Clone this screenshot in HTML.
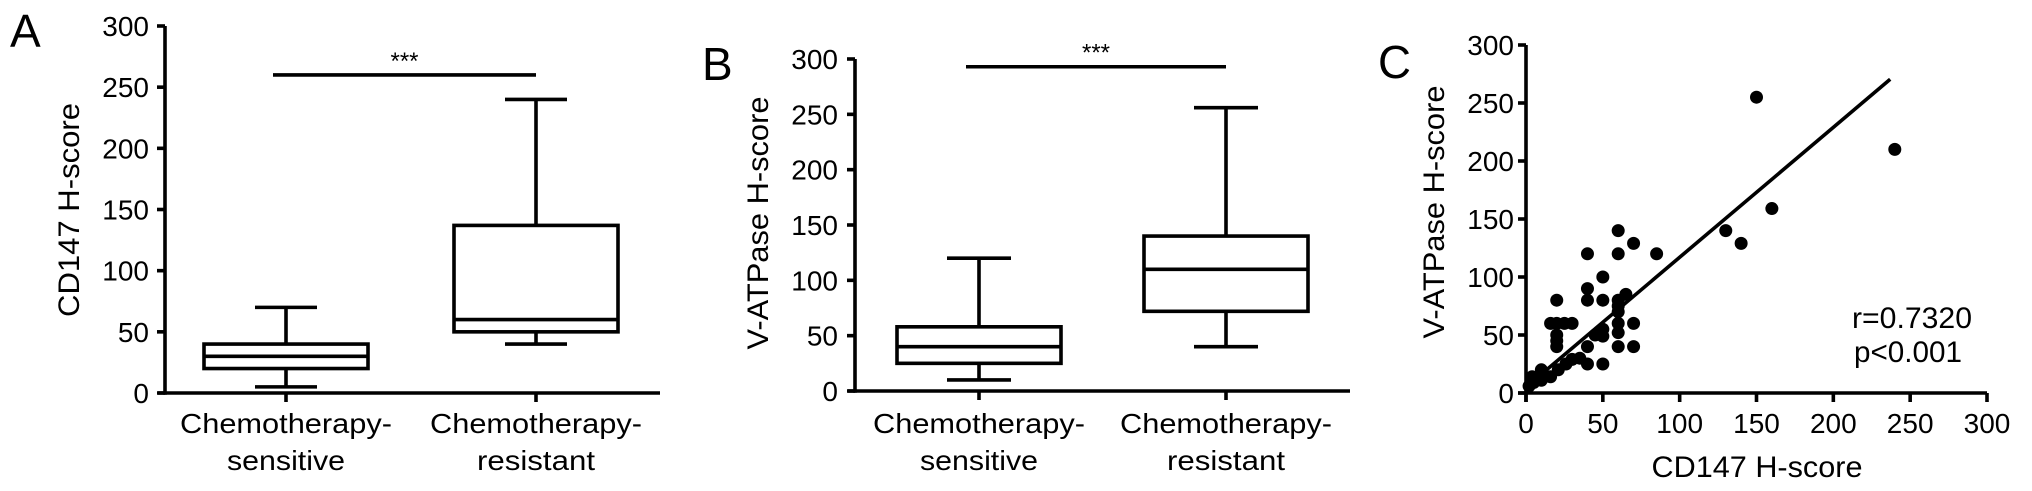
<!DOCTYPE html>
<html><head><meta charset="utf-8"><style>
html,body{margin:0;padding:0;background:#fff;}
svg{display:block;font-family:"Liberation Sans",Arial,sans-serif;}
</style></head><body>
<svg id="fig" width="2032" height="491" viewBox="0 0 2032 491" xmlns="http://www.w3.org/2000/svg"></svg>
<script>
// Panel A data
const aCategories = ["Chemotherapy-|sensitive", "Chemotherapy-|resistant"];
const aMin = [5, 40], aQ1 = [20, 50], aMed = [30, 60], aQ3 = [40, 137], aMax = [70, 240];
const aSig = [260];
// Panel B data
const bCategories = ["Chemotherapy-|sensitive", "Chemotherapy-|resistant"];
const bMin = [10, 40], bQ1 = [25, 72], bMed = [40, 110], bQ3 = [58, 140], bMax = [120, 256];
const bSig = [293];
// shared ticks
const yTicks = [0, 50, 100, 150, 200, 250, 300];
const cXTicks = [0, 50, 100, 150, 200, 250, 300];
// Panel C data
const cX = [150,240,160,130,140,60,70,40,60,85,50,40,40,50,20,60,65,60,70,60,60,60,70,50,50,40,40,50,16,20,25,30,20,20,20,30,26,10,4,10,5,16,21,2,60,45,35,12,8];
const cY = [255,210,159,140,129,140,129,120,120,120,100,90,80,80,80,80,85,70,60,60,52,40,40,55,49,40,25,25,60,60,60,60,50,45,40,29,25,20,14,11,9,14,20,6,75,50,30,15,12];
const cFit = [5, 1.12]; // intercept, slope
const cFitRange = [0, 237];
const cStats = ["r=0.7320", "p<0.001"];

const NS = "http://www.w3.org/2000/svg";
const svg = document.getElementById("fig");
function mk(tag, attrs, parent) {
  const e = document.createElementNS(NS, tag);
  for (const k in attrs) e.setAttribute(k, attrs[k]);
  (parent || svg).appendChild(e);
  return e;
}
function txt(s, attrs, parent) { const t = mk("text", attrs, parent); t.textContent = s; return t; }
const SW = 3.6;

function boxPanel(p) {
  const g = mk("g", {});
  
  
  const y = v => p.y0 - (v / 300) * (p.y0 - p.y300);
  const ya = mk("line", {x1: p.ax, y1: y(300), x2: p.ax, y2: y(0) + SW/2, stroke: "#000", "stroke-width": SW}, g);
  
  
  const xa = mk("line", {x1: p.ax - 7, y1: y(0), x2: p.xEnd, y2: y(0), stroke: "#000", "stroke-width": SW}, g);
  
  
  yTicks.forEach(v => {
    mk("line", {x1: p.ax - 8, y1: y(v), x2: p.ax, y2: y(v), stroke: "#000", "stroke-width": SW}, g);
    const t = txt(String(v), {x: p.tickRight, y: y(v) + 10, "font-size": 28, "text-anchor": "end"}, g);
    
    
  });
  const yt = txt(p.ytitle, {x: 0, y: 0, "font-size": 30, "text-anchor": "middle", textLength: p.ytLen, lengthAdjust: "spacingAndGlyphs", transform: `translate(${p.ytx},${p.yty}) rotate(-90)`}, g);
  
  
  const pl = txt(p.letter, {x: p.lx, y: p.ly, "font-size": 46}, g);
  
  
  p.cats.forEach((c, i) => {
    const cx = p.cx[i], hw = p.hw, cw = p.cw;
    mk("line", {x1: cx, y1: y(0), x2: cx, y2: y(0) + 9, stroke: "#000", "stroke-width": SW}, g);
    const wl = mk("path", {d: `M${cx},${y(p.max[i])}V${y(p.q3[i])}M${cx},${y(p.q1[i])}V${y(p.min[i])}M${cx-cw},${y(p.max[i])}H${cx+cw}M${cx-cw},${y(p.min[i])}H${cx+cw}`, stroke: "#000", "stroke-width": SW, fill: "none"}, g);
    
    
    const r = mk("rect", {x: cx - hw, y: y(p.q3[i]), width: 2*hw, height: y(p.q1[i]) - y(p.q3[i]), stroke: "#000", "stroke-width": SW, fill: "none"}, g);
    
    
    const m = mk("line", {x1: cx - hw, y1: y(p.med[i]), x2: cx + hw, y2: y(p.med[i]), stroke: "#000", "stroke-width": SW}, g);
    
    
    const parts = c.split("|");
    const l1 = txt(parts[0], {x: cx, y: 433, "font-size": 28, "text-anchor": "middle", textLength: 212, lengthAdjust: "spacingAndGlyphs"}, g);
    
    
    const l2 = txt(parts[1], {x: cx, y: 470, "font-size": 28, "text-anchor": "middle", textLength: 118, lengthAdjust: "spacingAndGlyphs"}, g);
    
    
  });
  const sb = mk("line", {x1: p.cx[0] - 13, y1: y(p.sig[0]), x2: p.cx[1], y2: y(p.sig[0]), stroke: "#000", "stroke-width": SW}, g);
  
  
  const st = txt("***", {x: (p.cx[0] - 13 + p.cx[1]) / 2, y: y(p.sig[0]) - 6, "font-size": 24, "text-anchor": "middle"}, g);
  
  
}

boxPanel({name: "panel-a", letter: "A", lx: 10, ly: 47, ax: 165, y0: 393, y300: 26, xEnd: 660, tickRight: 149,
  ytitle: "CD147 H-score", ytx: 79, yty: 210, ytLen: 214, cats: aCategories, cx: [286, 536], hw: 82, cw: 31,
  min: aMin, q1: aQ1, med: aMed, q3: aQ3, max: aMax, sig: aSig});
boxPanel({name: "panel-b", letter: "B", lx: 702, ly: 80, ax: 855, y0: 391, y300: 59, xEnd: 1350, tickRight: 838,
  ytitle: "V-ATPase H-score", ytx: 768, yty: 223, ytLen: 253, cats: bCategories, cx: [979, 1226], hw: 82, cw: 32,
  min: bMin, q1: bQ1, med: bMed, q3: bQ3, max: bMax, sig: bSig});

// Panel C
(function () {
  const g = mk("g", {});
  
  
  const ox = 1526, oy = 393, x300 = 1987, y300 = 45;
  const X = v => ox + (v / 300) * (x300 - ox);
  const Y = v => oy - (v / 300) * (oy - y300);
  const ya = mk("line", {x1: ox, y1: y300, x2: ox, y2: oy + 9, stroke: "#000", "stroke-width": SW}, g);
  
  
  const xa = mk("line", {x1: ox - 8, y1: oy, x2: x300, y2: oy, stroke: "#000", "stroke-width": SW}, g);
  
  
  yTicks.forEach(v => {
    mk("line", {x1: ox - 8, y1: Y(v), x2: ox, y2: Y(v), stroke: "#000", "stroke-width": SW}, g);
    const t = txt(String(v), {x: 1514, y: Y(v) + 10, "font-size": 28, "text-anchor": "end"}, g);
    
    
  });
  cXTicks.forEach(v => {
    mk("line", {x1: X(v), y1: oy, x2: X(v), y2: oy + 9, stroke: "#000", "stroke-width": SW}, g);
    const t = txt(String(v), {x: X(v), y: 433, "font-size": 28, "text-anchor": "middle"}, g);
    
    
  });
  const yt = txt("V-ATPase H-score", {x: 0, y: 0, "font-size": 30, "text-anchor": "middle", textLength: 253, lengthAdjust: "spacingAndGlyphs", transform: "translate(1444,212) rotate(-90)"}, g);
  
  
  const xt = txt("CD147 H-score", {x: 1757, y: 477, "font-size": 30, "text-anchor": "middle", textLength: 211, lengthAdjust: "spacingAndGlyphs"}, g);
  
  
  const pl = txt("C", {x: 1378, y: 78, "font-size": 46, textLength: 33, lengthAdjust: "spacingAndGlyphs"}, g);
  
  
  cX.forEach((xv, i) => {
    const c = mk("circle", {cx: X(xv), cy: Y(cY[i]), r: 6.5, fill: "#000"}, g);
    
    
  });
  const fl = mk("line", {x1: X(cFitRange[0]), y1: Y(cFit[0] + cFit[1]*cFitRange[0]), x2: X(cFitRange[1]), y2: Y(cFit[0] + cFit[1]*cFitRange[1]), stroke: "#000", "stroke-width": 3.6}, g);
  
  
  const r1 = txt(cStats[0], {x: 1852, y: 328, "font-size": 30, textLength: 120, lengthAdjust: "spacingAndGlyphs"}, g);
  
  
  const r2 = txt(cStats[1], {x: 1854, y: 362, "font-size": 30, textLength: 108, lengthAdjust: "spacingAndGlyphs"}, g);
  
  
})();
</script>
</body></html>
